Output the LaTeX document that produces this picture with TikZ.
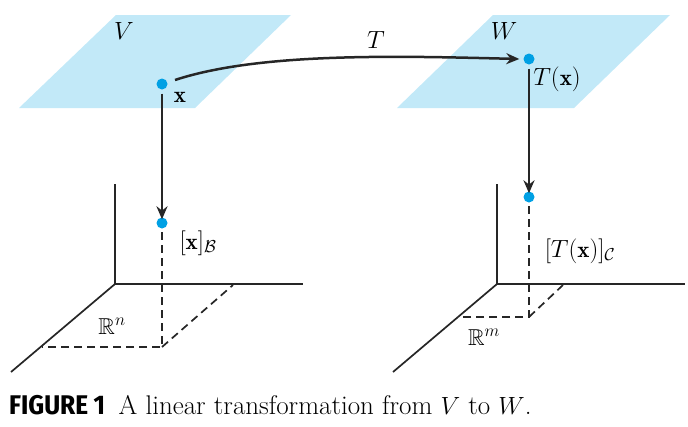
\documentclass[tikz,border=0pt]{standalone}
\usepackage{amssymb}
\usepackage{fontspec}
\newfontfamily\capfont{Fira Sans Condensed}
\usetikzlibrary{arrows.meta}
\definecolor{plane}{RGB}{194,233,248}
\definecolor{dotc}{RGB}{0,160,228}
\tikzset{
  ax/.style={line width=1.7pt,black!85},
  dsh/.style={line width=1.7pt,black!85,dash pattern=on 8pt off 5pt},
  arr/.style={line width=2.5pt,black!85,-{Stealth[length=13pt,width=11pt]}},
  pt/.style={circle,fill=dotc,inner sep=0pt,minimum width=10pt,minimum height=11pt},
  lbl/.style={font=\fontsize{23}{27}\selectfont,inner sep=1pt}
}
\begin{document}
\begin{tikzpicture}[x=1pt,y=-1pt]
\useasboundingbox (0,0) rectangle (688,426);
% planes
\fill[plane] (116,15) -- (291,15) -- (195,108) -- (19,108) -- cycle;
\fill[plane] (493,15) -- (670,15) -- (574,108) -- (397,108) -- cycle;
% left axes
\coordinate (o1) at (115,284);
\draw[ax] (115,184) -- (o1) -- (303,284);
\draw[ax] (o1) -- (11,372);
\draw[dsh] (162,232) -- (162,347) -- (42,347);
\draw[dsh] (162,347) -- (233,285);
% right axes
\coordinate (o2) at (497,284);
\draw[ax] (497,184) -- (o2) -- (685,284);
\draw[ax] (o2) -- (393,372);
\draw[dsh] (529,206) -- (529,317) -- (460,317);
\draw[dsh] (529,317) -- (563,285);
% points
\node[pt] (x) at (162,84) {};
\node[pt] (xb) at (162,223) {};
\node[pt] (tx) at (529,59) {};
\node[pt] (txc) at (529,197) {};
\draw[arr] (x.south) ++(0,4) -- ([yshift=-2pt]xb.north);
\draw[arr] (tx.south) ++(0,4) -- ([yshift=-2pt]txc.north);
\coordinate (cs) at (175,80);
\draw[arr] (cs) .. controls (260,52) and (400,56) .. ([xshift=-4pt]tx.west);
% labels
\node[lbl] at (124,31) {$V$};
\node[lbl] at (504,31) {$W$};
\node[lbl] at (376,40) {$T$};
\node[lbl] at (180,97) {$\mathbf{x}$};
\node[lbl] at (557,79) {$T(\mathbf{x})$};
\node[lbl] at (198,243) {$[\mathbf{x}]_{\mathcal{B}}$};
\node[lbl] at (580,251) {$[T(\mathbf{x})]_{\mathcal{C}}$};
\node[lbl] at (112,326) {$\mathbb{R}^n$};
\node[lbl] at (484,337) {$\mathbb{R}^m$};
\node[anchor=west,inner sep=0pt,font=\fontsize{27}{30}\selectfont] at (9,405)
  {{\capfont\bfseries FIGURE 1}\enspace A linear transformation from $V$ to $W$.};
\end{tikzpicture}
\end{document}
